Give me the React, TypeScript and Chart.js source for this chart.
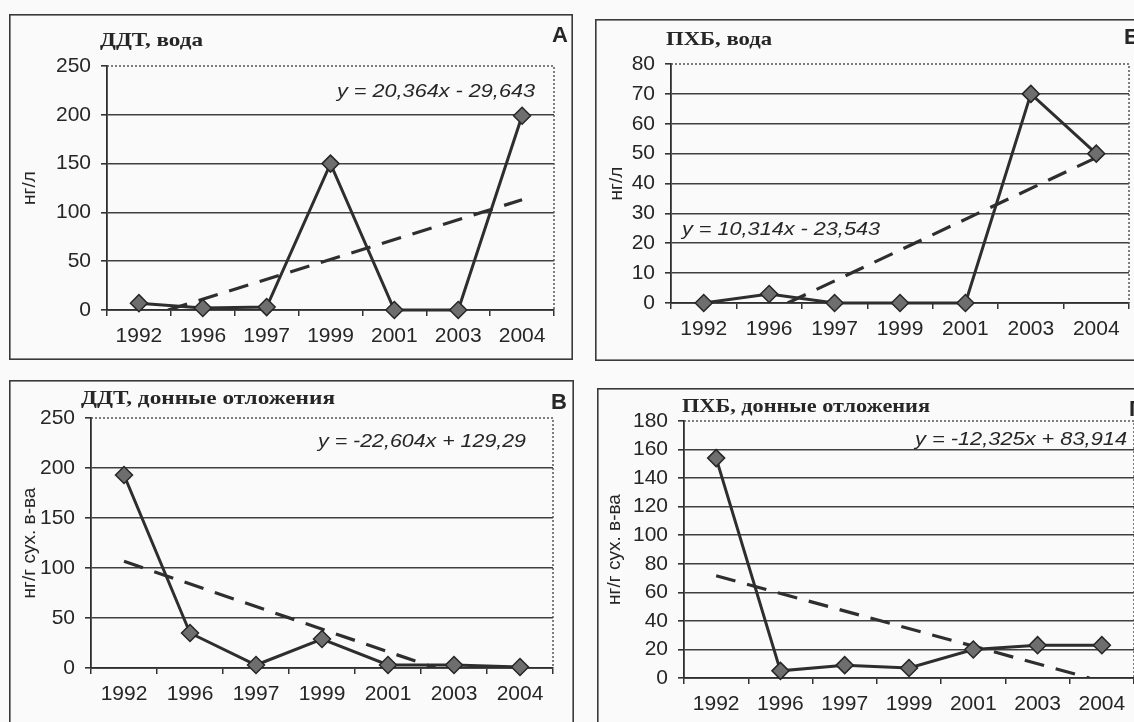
import React, { useEffect, useRef } from "react";
import { Chart, registerables } from "chart.js";
Chart.register(...registerables);

// ---------- data ----------
const years = ["1992", "1996", "1997", "1999", "2001", "2003", "2004"];
const ddtWater = [7, 2, 3, 150, 0, 0, 199];
const pcbWater = [0, 3, 0, 0, 0, 70, 50];
const ddtSediment = [193, 35, 3, 29, 3, 3, 1];
const pcbSediment = [154, 5, 9, 7, 20, 23, 23];

const panelTitles = ["ДДТ, вода", "ПХБ, вода", "ДДТ, донные отложения", "ПХБ, донные отложения"];
const panelLetters = ["А", "Б", "В", "Г"];
const yTitles = ["нг/л", "нг/л", "нг/г сух. в-ва", "нг/г сух. в-ва"];
const yMax = [250, 80, 250, 180];
const yStep = [50, 10, 50, 20];
const trendSlope = [20.364, 10.314, -22.604, -12.325];
const trendIntercept = [-29.643, -23.543, 129.29, 83.914];
const trendLabels = [
  "y = 20,364x - 29,643",
  "y = 10,314x - 23,543",
  "y = -22,604x + 129,29",
  "y = -12,325x + 83,914",
];
const seriesList = [ddtWater, pcbWater, ddtSediment, pcbSediment];

// ---------- layout / style (page pixel coords) ----------
type Layout = {
  box: [number, number, number, number];
  area: [number, number, number, number];
  titleX: number; titleY: number; titleW: number;
  letterX: number; letterY: number;
  eqX: number; eqY: number; eqW: number;
  yTitleX: number;
};
const layouts: Layout[] = [
  { box: [9, 14, 573, 360], area: [107, 66, 554, 310], titleX: 100, titleY: 41, titleW: 103, letterX: 552, letterY: 36, eqX: 337, eqY: 92, eqW: 198, yTitleX: 30 },
  { box: [595, 19, 1160, 361], area: [671, 64, 1129, 303], titleX: 666, titleY: 40, titleW: 106, letterX: 1124, letterY: 38, eqX: 682, eqY: 230, eqW: 198, yTitleX: 617 },
  { box: [9, 380, 574, 740], area: [91, 418, 553, 668], titleX: 81, titleY: 399, titleW: 254, letterX: 551, letterY: 403, eqX: 318, eqY: 442, eqW: 208, yTitleX: 30 },
  { box: [597, 388, 1160, 740], area: [684, 421, 1134, 678], titleX: 682, titleY: 407, titleW: 248, letterX: 1129, letterY: 410, eqX: 915, eqY: 440, eqW: 212, yTitleX: 615 },
];

const BG = "#fafafa";
const INK = "#262626";
const SANS = "'Liberation Sans', Arial, sans-serif";
const SERIF = "'Liberation Serif', 'Times New Roman', serif";

function drawScaledText(ctx: CanvasRenderingContext2D, text: string, x: number, y: number, w: number) {
  const m = ctx.measureText(text).width;
  const k = m > 0 ? w / m : 1;
  ctx.save();
  ctx.translate(x, y);
  ctx.scale(k, 1);
  ctx.textAlign = "left";
  ctx.textBaseline = "middle";
  ctx.fillText(text, 0, 0);
  ctx.restore();
}

function makePlugin(i: number) {
  const L = layouts[i];
  const ox = L.box[0];
  const oy = L.box[1];
  return {
    id: "panelDeco" + i,
    beforeDraw(chart: any) {
      const ctx = chart.ctx;
      ctx.save();
      ctx.fillStyle = BG;
      ctx.fillRect(0, 0, chart.width, chart.height);
      ctx.restore();
    },
    beforeDatasetsDraw(chart: any) {
      const ctx = chart.ctx;
      const a = chart.chartArea;
      ctx.save();
      ctx.strokeStyle = "#555";
      ctx.lineWidth = 1.5;
      ctx.setLineDash([2, 2]);
      ctx.beginPath();
      ctx.moveTo(a.left, a.top);
      ctx.lineTo(a.right, a.top);
      ctx.lineTo(a.right, a.bottom);
      ctx.stroke();
      ctx.restore();
    },
    afterDraw(chart: any) {
      const ctx = chart.ctx;
      const a = chart.chartArea;
      ctx.save();
      ctx.strokeStyle = "#3a3a3a";
      ctx.lineWidth = 1.6;
      ctx.strokeRect(0.8, 0.8, chart.width - 1.6, chart.height - 1.6);
      ctx.fillStyle = INK;
      // title
      ctx.font = `bold 19px ${SERIF}`;
      drawScaledText(ctx, panelTitles[i], L.titleX - ox, L.titleY - oy, L.titleW);
      // letter
      ctx.font = `bold 22px ${SANS}`;
      ctx.textAlign = "left";
      ctx.textBaseline = "middle";
      ctx.fillText(panelLetters[i], L.letterX - ox, L.letterY - oy);
      // equation
      ctx.font = `italic 19px ${SANS}`;
      drawScaledText(ctx, trendLabels[i], L.eqX - ox, L.eqY - oy, L.eqW);
      // y title
      ctx.save();
      ctx.font = `19px ${SANS}`;
      ctx.translate(L.yTitleX - ox, (a.top + a.bottom) / 2);
      ctx.rotate(-Math.PI / 2);
      ctx.textAlign = "center";
      ctx.textBaseline = "middle";
      ctx.fillText(yTitles[i], 0, 0);
      ctx.restore();
      ctx.restore();
    },
  };
}

function trendPoints(i: number) {
  const a = trendSlope[i];
  const b = trendIntercept[i];
  const x0 = -b / a;
  let xs = 1;
  let xe = years.length;
  if (a > 0) xs = Math.max(1, x0);
  else xe = Math.min(years.length, x0);
  return [
    { x: xs, y: a * xs + b },
    { x: xe, y: a * xe + b },
  ];
}

function Panel({ i }: { i: number }) {
  const ref = useRef<HTMLCanvasElement | null>(null);
  const L = layouts[i];
  const w = L.box[2] - L.box[0];
  const h = L.box[3] - L.box[1];
  useEffect(() => {
    if (!ref.current) return;
    const max = yMax[i];
    const tickFont = { family: SANS, size: 21 };
    const chart = new Chart(ref.current, {
      type: "line",
      data: {
        datasets: [
          {
            data: seriesList[i].map((v, k) => ({ x: k + 1, y: v })),
            borderColor: "#2e2e2e",
            borderWidth: 3,
            pointStyle: "rectRot",
            pointRadius: 8.5,
            pointBackgroundColor: "#6e6e6e",
            pointBorderColor: "#262626",
            pointBorderWidth: 1.5,
            tension: 0,
            clip: false,
          } as any,
          {
            data: trendPoints(i),
            borderColor: "#2e2e2e",
            borderWidth: 3.2,
            borderDash: [20, 12],
            pointRadius: 0,
            tension: 0,
          } as any,
        ],
      },
      options: {
        responsive: false,
        animation: false,
        events: [],
        layout: {
          padding: {
            left: 0,
            bottom: 0,
            top: L.area[1] - L.box[1],
            right: L.box[2] - L.area[2],
          },
        },
        plugins: { legend: { display: false }, tooltip: { enabled: false }, title: { display: false } },
        scales: {
          x: {
            type: "linear",
            min: 0.5,
            max: years.length + 0.5,
            afterBuildTicks: (s: any) => {
              s.ticks = years.map((_, k) => ({ value: k + 1 }));
            },
            afterFit: (s: any) => {
              s.height = L.box[3] - L.area[3];
            },
            ticks: {
              callback: (_v: any, idx: number) => years[idx],
              font: tickFont,
              color: INK,
              padding: 8,
              maxRotation: 0,
              autoSkip: false,
            },
            grid: { offset: true, drawOnChartArea: false, drawTicks: true, tickLength: 6, color: "#333", lineWidth: 1.5 },
            border: { display: true, color: "#2e2e2e", width: 1.8 },
          } as any,
          y: {
            min: 0,
            max,
            afterFit: (s: any) => {
              s.width = L.area[0] - L.box[0];
            },
            ticks: { stepSize: yStep[i], font: tickFont, color: INK, padding: 10 },
            grid: {
              color: (c: any) => (c.tick && c.tick.value === max ? "rgba(0,0,0,0)" : "#404040"),
              lineWidth: 1.6,
              tickLength: 6,
              tickColor: "#333",
            },
            border: { display: true, color: "#2e2e2e", width: 1.8 },
          } as any,
        },
      },
      plugins: [makePlugin(i)],
    });
    return () => chart.destroy();
  }, [i]);
  return (
    <canvas
      ref={ref}
      width={w}
      height={h}
      style={{ position: "absolute", left: L.box[0], top: L.box[1], width: w, height: h }}
    />
  );
}

export default function App() {
  return (
    <div
      style={{
        position: "absolute",
        left: 0,
        top: 0,
        width: 1134,
        height: 722,
        overflow: "hidden",
        background: BG,
      }}
    >
      {[0, 1, 2, 3].map((i) => (
        <Panel key={i} i={i} />
      ))}
    </div>
  );
}
